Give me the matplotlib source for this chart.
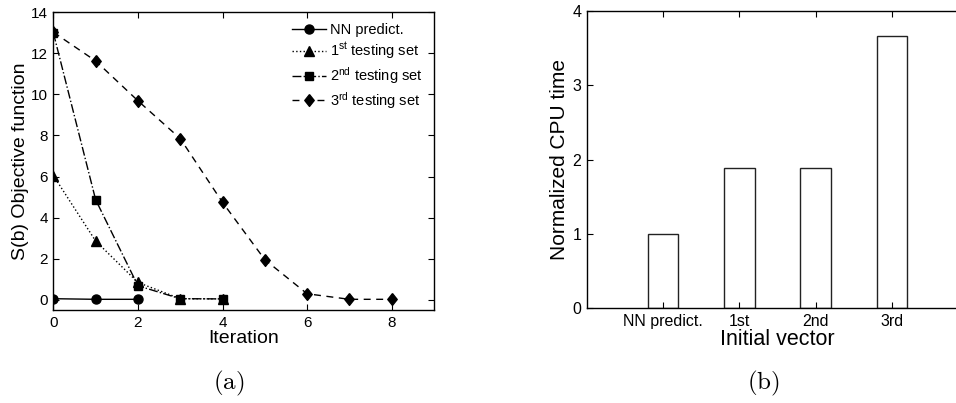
import matplotlib
matplotlib.use("Agg")
import matplotlib.pyplot as plt

plt.rcParams['font.family'] = ['Liberation Sans', 'DejaVu Sans']
plt.rcParams['mathtext.fontset'] = 'custom'
plt.rcParams['mathtext.rm'] = 'Liberation Sans'
plt.rcParams['mathtext.it'] = 'Liberation Sans'
plt.rcParams['mathtext.bf'] = 'Liberation Sans'

# (a) objective function versus iteration
nn_iter = [0, 1, 2]
nn_obj = [0.05, 0.02, 0.02]
set1_iter = [0, 1, 2, 3, 4]
set1_obj = [6.05, 2.86, 0.84, 0.05, 0.04]
set2_iter = [0, 1, 2, 3, 4]
set2_obj = [13.0, 4.87, 0.68, 0.05, 0.04]
set3_iter = [0, 1, 2, 3, 4, 5, 6, 7, 8]
set3_obj = [13.03, 11.63, 9.69, 7.85, 4.74, 1.95, 0.29, 0.02, 0.02]

series_labels = ['NN predict.', r'1$^{\rm st}$ testing set',
                 r'2$^{\rm nd}$ testing set', r'3$^{\rm rd}$ testing set']

# (b) normalized CPU time per initial vector
vector_labels = ['NN predict.', '1st', '2nd', '3rd']
cpu_time = [1.0, 1.89, 1.89, 3.67]

# slightly wide diamond marker
diamond = [(0, 1), (0.8, 0), (0, -1), (-0.8, 0), (0, 1)]

fig = plt.figure(figsize=(9.56, 4.03), dpi=100)

ax1 = fig.add_axes([0.0558, 0.2308, 0.3982, 0.7387])
ax1.plot(nn_iter, nn_obj, '-', color='black', lw=1.0, marker='o', ms=6.5,
         label=series_labels[0])
ax1.plot(set1_iter, set1_obj, ':', color='black', lw=1.0, marker='^', ms=7,
         label=series_labels[1])
ax1.plot(set2_iter, set2_obj, '-.', color='black', lw=1.0, marker='s', ms=5.5,
         label=series_labels[2])
ax1.plot(set3_iter, set3_obj, '--', color='black', lw=1.0, marker=diamond,
         ms=8.5, label=series_labels[3], dashes=(5, 4))
ax1.set_xlim(0, 9)
ax1.set_ylim(-0.5, 14)
ax1.set_xticks([0, 2, 4, 6, 8])
ax1.set_yticks(range(0, 15, 2))
ax1.tick_params(direction='in', top=True, right=True, length=4, width=0.8,
                labelsize=11, pad=4)
ax1.set_xlabel('Iteration', fontsize=14, labelpad=0)
ax1.set_ylabel('S(b) Objective function', fontsize=14, labelpad=1)
leg = ax1.legend(loc='upper right', bbox_to_anchor=(1.0, 1.0), frameon=False,
                 fontsize=10.5, handlelength=2.3, handletextpad=0.3,
                 labelspacing=0.25, borderaxespad=0.35)

ax2 = fig.add_axes([0.6137, 0.2357, 0.399, 0.7363])
positions = list(range(1, len(cpu_time) + 1))
ax2.bar(positions, cpu_time, width=0.4, color='white', edgecolor='#222222',
        linewidth=1.0)
ax2.set_xlim(0, 5)
ax2.set_ylim(0, 4)
ax2.set_xticks(positions)
ax2.set_xticklabels(vector_labels)
ax2.set_yticks(range(0, 5))
ax2.tick_params(direction='in', top=True, right=True, length=4, width=0.8,
                labelsize=11.5, pad=4)
ax2.set_xlabel('Initial vector', fontsize=15.5, labelpad=0)
ax2.set_ylabel('Normalized CPU time', fontsize=15, labelpad=2)

for ax in (ax1, ax2):
    for sp in ax.spines.values():
        sp.set_linewidth(1.0)

fig.text(229 / 956, 1 - 383 / 403, r'$\mathrm{(a)}$', fontsize=18,
         ha='center', va='center', math_fontfamily='cm')
fig.text(763 / 956, 1 - 383 / 403, r'$\mathrm{(b)}$', fontsize=18,
         ha='center', va='center', math_fontfamily='cm')

fig.savefig('out.png', dpi=100)
